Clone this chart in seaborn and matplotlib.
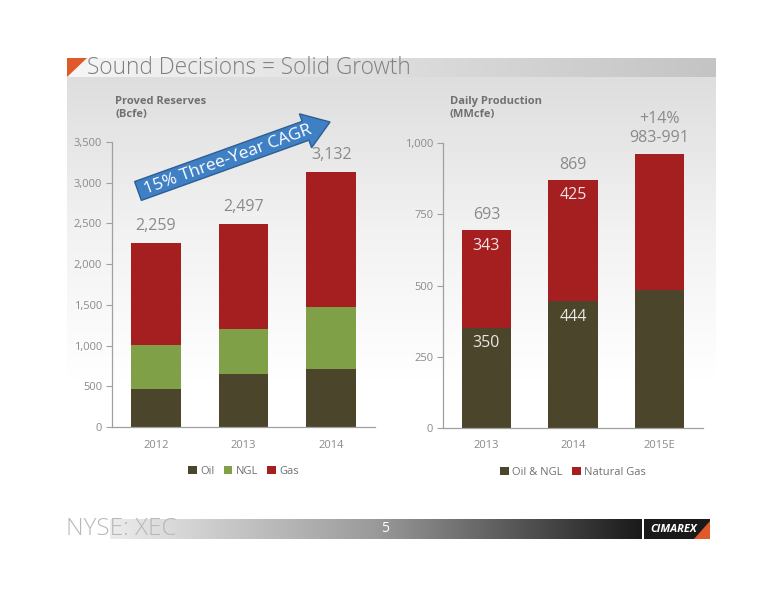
import numpy as np
import pandas as pd
import matplotlib
matplotlib.use('Agg')
import matplotlib.pyplot as plt
import seaborn as sns
from matplotlib.patches import Polygon, FancyArrow, Rectangle
from matplotlib.colors import LinearSegmentedColormap

# ---------------------------------------------------------------- data
reserve_years = ['2012', '2013', '2014']
reserve_oil = [464, 648, 710]
reserve_ngl = [537, 550, 759]
reserve_gas = [1258, 1299, 1663]
reserve_totals = ['2,259', '2,497', '3,132']

prod_years = ['2013', '2014', '2015E']
prod_oil_ngl = [350, 444, 483]
prod_gas = [343, 425, 480]
prod_totals = ['693', '869', '+14%\n983-991']
prod_inner_oil = ['350', '444', '']
prod_inner_gas = ['343', '425', '']

C_OIL = '#4b452b'
C_NGL = '#7fa046'
C_GAS = '#a51e20'
GREY = '#8a8a8a'

sns.set_style('white')
plt.rcParams['font.family'] = ['Open Sans', 'DejaVu Sans']

W, H = 776, 600
fig = plt.figure(figsize=(W / 100, H / 100), dpi=100)


def box(x0, y0, x1, y1):
    # pixel box (top-left origin) -> figure fraction rect
    return [x0 / W, 1 - y1 / H, (x1 - x0) / W, (y1 - y0) / H]


# ---------------------------------------------------------------- background
bg = fig.add_axes([0, 0, 1, 1], zorder=0)
bg.set_xlim(0, W)
bg.set_ylim(H, 0)
bg.axis('off')

panel = LinearSegmentedColormap.from_list('panel', ['#dedede', '#f2f2f2', '#ffffff'])
grad = np.linspace(0, 1, 256).reshape(-1, 1)
bg.imshow(grad, cmap=panel, extent=(67, 716, 380, 77), aspect='auto')
band = LinearSegmentedColormap.from_list('band', ['#f6f6f6', '#c4c4c4'])
bg.imshow(np.linspace(0, 1, 256).reshape(1, -1), cmap=band,
          extent=(67, 716, 77, 58), aspect='auto')
bg.add_patch(Polygon([[67, 77], [67, 58], [87, 58]], closed=True,
                     color='#e0592a', lw=0))
bg.text(87, 68, 'Sound Decisions = Solid Growth', fontsize=16.3,
        fontweight='light', color='#7f7f7f', va='center', ha='left')

foot = LinearSegmentedColormap.from_list('foot', ['#ececec', '#9a9a9a', '#1a1a1a'])
bg.imshow(np.linspace(0, 1, 256).reshape(1, -1), cmap=foot,
          extent=(110, 642, 539, 519), aspect='auto')
bg.text(66, 529, 'NYSE: XEC', fontsize=17.5, fontweight='light',
        color='#b8b8b8', va='center', ha='left')
bg.text(385, 529, '5', fontsize=10, color='white', va='center', ha='center')
bg.add_patch(Rectangle((644, 519), 66, 20, color='#1a1a1a', lw=0))
bg.add_patch(Polygon([[694, 539], [710, 521], [710, 539]], closed=True,
                     color='#e0592a', lw=0))
bg.text(674, 529, 'CIMAREX', fontsize=8, color='white', fontweight='bold',
        fontstyle='italic', va='center', ha='center')

bg.text(115, 108, 'Proved Reserves\n(Bcfe)', fontsize=8, fontweight='bold',
        color='#707070', va='center', ha='left', linespacing=1.3)
bg.text(450, 108, 'Daily Production\n(MMcfe)', fontsize=8, fontweight='bold',
        color='#707070', va='center', ha='left', linespacing=1.3)


def style(ax, ymax, step):
    ax.set_facecolor('none')
    ax.set_ylim(0, ymax)
    ax.set_yticks(np.arange(0, ymax + 1, step))
    ax.yaxis.set_major_formatter(matplotlib.ticker.StrMethodFormatter('{x:,.0f}'))
    sns.despine(ax=ax)
    for s in ['left', 'bottom']:
        ax.spines[s].set_color('#a0a0a0')
        ax.spines[s].set_linewidth(0.9)
    ax.tick_params(axis='y', length=4, width=0.8, color='#a0a0a0',
                   labelsize=8, labelcolor=GREY, pad=3, left=True)
    ax.tick_params(axis='x', length=0, labelsize=8, labelcolor=GREY, pad=9)
    ax.set_xlabel('')
    ax.set_ylabel('')


bar_kw = dict(width=0.57, saturation=1, linewidth=0, edgecolor='none')

# ---------------------------------------------------------------- left: reserves
ax1 = fig.add_axes(box(112, 142, 375, 427), zorder=2)
df1 = pd.DataFrame({'year': reserve_years, 'oil': reserve_oil,
                    'ngl': reserve_ngl, 'gas': reserve_gas})
df1['ngl_top'] = df1['oil'] + df1['ngl']
df1['gas_top'] = df1['ngl_top'] + df1['gas']
sns.barplot(data=df1, x='year', y='gas_top', color=C_GAS, ax=ax1,
            label='Gas', **bar_kw)
sns.barplot(data=df1, x='year', y='ngl_top', color=C_NGL, ax=ax1,
            label='NGL', **bar_kw)
sns.barplot(data=df1, x='year', y='oil', color=C_OIL, ax=ax1,
            label='Oil', **bar_kw)
style(ax1, 3500, 500)
for i, t in enumerate(reserve_totals):
    ax1.text(i, df1['gas_top'][i] + 110, t, ha='center', va='bottom',
             fontsize=11.5, color=GREY)
h, l = ax1.get_legend_handles_labels()
ax1.legend(h[::-1], l[::-1], loc='upper center', bbox_to_anchor=(0.5, -0.1),
           ncol=3, frameon=False, fontsize=8, labelcolor='#707070',
           handlelength=0.8, handleheight=0.8, handletextpad=0.3,
           columnspacing=0.8)

# ---------------------------------------------------------------- right: production
ax2 = fig.add_axes(box(443, 143, 703, 428), zorder=2)
df2 = pd.DataFrame({'year': prod_years, 'oil': prod_oil_ngl, 'gas': prod_gas})
df2['gas_top'] = df2['oil'] + df2['gas']
sns.barplot(data=df2, x='year', y='gas_top', color=C_GAS, ax=ax2,
            label='Natural Gas', **bar_kw)
sns.barplot(data=df2, x='year', y='oil', color=C_OIL, ax=ax2,
            label='Oil & NGL', **bar_kw)
style(ax2, 1000, 250)
for i, t in enumerate(prod_totals):
    ax2.text(i, df2['gas_top'][i] + 25, t, ha='center', va='bottom',
             fontsize=11.5, color=GREY, linespacing=1.25)
    if prod_inner_gas[i]:
        ax2.text(i, df2['gas_top'][i] - 25, prod_inner_gas[i], ha='center',
                 va='top', fontsize=11.5, color='#f4e4e4')
        ax2.text(i, df2['oil'][i] - 25, prod_inner_oil[i], ha='center',
                 va='top', fontsize=11.5, color='#e8e8e0')
h, l = ax2.get_legend_handles_labels()
ax2.legend(h[::-1], l[::-1], loc='upper center', bbox_to_anchor=(0.5, -0.1),
           ncol=2, frameon=False, fontsize=8, labelcolor='#707070',
           handlelength=0.8, handleheight=0.8, handletextpad=0.3,
           columnspacing=0.8)

# ---------------------------------------------------------------- CAGR arrow
ov = fig.add_axes([0, 0, 1, 1], zorder=5)
ov.set_xlim(0, W)
ov.set_ylim(H, 0)
ov.axis('off')
ov.add_patch(FancyArrow(138, 191, 192, -69, width=20, head_width=36,
                        head_length=26, length_includes_head=True,
                        facecolor='#3f7fc4', edgecolor='#2d5e94', lw=1))
ov.text(228, 160, '15% Three-Year CAGR', rotation=20, fontsize=12.5,
        color='white', ha='center', va='center', rotation_mode='anchor')

fig.savefig('out.png', dpi=100)
